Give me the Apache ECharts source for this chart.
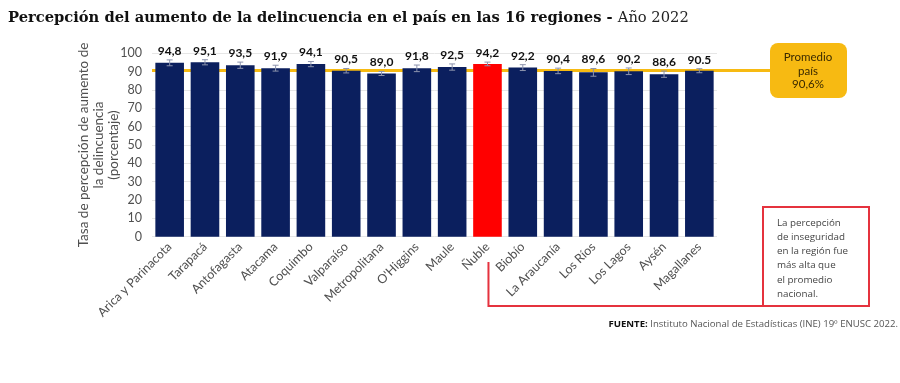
<!DOCTYPE html>
<html><head><meta charset="utf-8">
<script src="https://cdn.jsdelivr.net/npm/echarts@6/dist/echarts.min.js"></script>
<style>html,body{margin:0;padding:0;background:#fff}#c{width:900px;height:383px}</style>
</head><body><div id="c"></div>
<script>
const regions = ["Arica y Parinacota","Tarapacá","Antofagasta","Atacama","Coquimbo","Valparaíso","Metropolitana","O'Higgins","Maule","Ñuble","Biobío","La Araucanía","Los Ríos","Los Lagos","Aysén","Magallanes"];
const values = [94.8,95.1,93.5,91.9,94.1,90.5,89.0,91.8,92.5,94.2,92.2,90.4,89.6,90.2,88.6,90.5];
const labels = ["94,8","95,1","93,5","91,9","94,1","90,5","89,0","91,8","92,5","94,2","92,2","90,4","89,6","90,2","88,6","90.5"];
const errors = [1.6,1.4,1.7,1.6,1.4,1.2,1.1,1.8,1.7,1.0,1.6,1.5,2.1,1.8,1.7,1.1];
const highlight = "Ñuble";
const nationalAvg = 90.6;
const yTicks = [0,10,20,30,40,50,60,70,80,90,100];

const navy = "#0B1F5E", red = "#FF0000", gold = "#F7BA12";
const chart = echarts.init(document.getElementById('c'));
const F = "Lato, 'Open Sans', sans-serif";

chart.setOption({
  animation:false,
  grid:{left:152,right:183,top:53.3,bottom:383-236.7},
  title:{
    left:3, top:6,
    text:"{b|Percepción del aumento de la delincuencia en el país en las 16 regiones - }{n|Año 2022}",
    textStyle:{rich:{
      b:{fontFamily:"'DejaVu Serif', serif",fontWeight:'bold',fontSize:14.7,color:'#111'},
      n:{fontFamily:"'DejaVu Serif', serif",fontWeight:'normal',fontSize:14.7,color:'#222'}
    }}
  },
  xAxis:{type:'category',data:regions,
    axisLine:{show:false},axisTick:{show:false},
    axisLabel:{rotate:45,interval:0,fontFamily:F,fontSize:12.5,color:'#505050',margin:8}
  },
  yAxis:{type:'value',min:0,max:100,interval:10,
    name:"Tasa de percepción de aumento de\nla delincuencia\n(porcentaje)",
    nameLocation:'middle',nameGap:31,nameRotate:90,nameMoveOverlap:false,
    nameTextStyle:{fontFamily:F,fontSize:13.5,color:'#505050',lineHeight:15},
    axisLabel:{fontFamily:F,fontSize:12.5,color:'#505050',margin:10},
    splitLine:{lineStyle:{color:'#e6e6e6'}},axisLine:{show:false},axisTick:{show:false}
  },
  series:[
    {type:'bar',barWidth:'81%',z:3,
     data:values.map((v,i)=>({value:v,itemStyle:{color:regions[i]===highlight?red:navy}}))},
    {type:'custom',z:5,
     data:values.map((v,i)=>[i,v,errors[i],labels[i]]),
     renderItem:function(params,api){
       const x=api.coord([api.value(0),0])[0];
       const top=api.coord([api.value(0),api.value(1)+api.value(2)]);
       const bot=api.coord([api.value(0),api.value(1)-api.value(2)]);
       const c={stroke:'#8c93ad',lineWidth:1};
       return {type:'group',children:[
         {type:'line',shape:{x1:x,y1:top[1],x2:x,y2:bot[1]},style:c},
         {type:'line',shape:{x1:x-3,y1:top[1],x2:x+3,y2:top[1]},style:c},
         {type:'line',shape:{x1:x-3,y1:bot[1],x2:x+3,y2:bot[1]},style:c},
         {type:'text',x:x,y:top[1]-3,style:{text:api.value(3),textAlign:'center',textVerticalAlign:'bottom',
           font:"bold 12px Lato, sans-serif",fill:'#111'}}
       ]};
     }}
  ]
});

const yAvg = chart.convertToPixel({yAxisIndex:0}, nationalAvg);
const xNuble = chart.convertToPixel({xAxisIndex:0}, highlight);
chart.setOption({graphic:[
  {type:'line',z:2,shape:{x1:152,y1:yAvg,x2:772,y2:yAvg},style:{stroke:gold,lineWidth:3}},
  {type:'rect',shape:{x:770,y:43,width:77,height:55,r:8},style:{fill:gold}},
  {type:'text',x:808,y:71,style:{text:"Promedio\npaís\n"+String(nationalAvg).replace('.',',')+"%",textAlign:'center',textVerticalAlign:'middle',
    font:"11.5px Lato, sans-serif",fill:'#3a2a00',lineHeight:13.5}},
  {type:'polyline',shape:{points:[[xNuble+1,262],[xNuble+1,306],[763,306]]},style:{stroke:'#E5323E',lineWidth:2,fill:null}},
  {type:'rect',shape:{x:763,y:207,width:106,height:99},style:{stroke:'#E5323E',lineWidth:2,fill:'#fff'}},
  {type:'text',x:777,y:216,style:{text:"La percepción\nde inseguridad\nen la región fue\nmás alta que\nel promedio\nnacional.",
    font:"9.8px 'Open Sans', sans-serif",fill:'#444',lineHeight:14.2}},
  {type:'text',right:2,top:319,style:{text:"{b|FUENTE:} Instituto Nacional de Estadísticas (INE) 19º ENUSC 2022.",
    font:"9.6px 'Open Sans', sans-serif",fill:'#555',rich:{b:{fontWeight:'bold',fontSize:9.6,fill:'#111',fontFamily:"'Open Sans', sans-serif"}}}}
]});
</script></body></html>
